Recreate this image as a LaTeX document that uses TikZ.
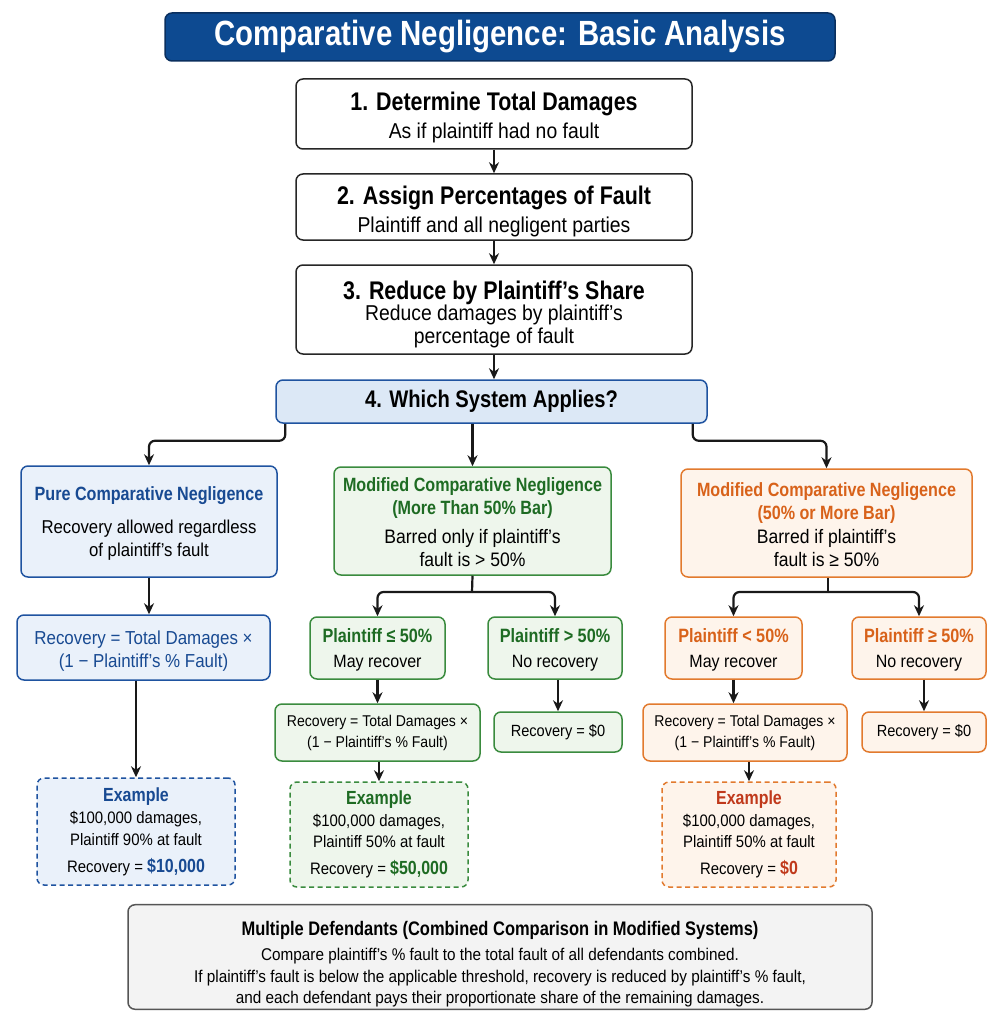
\documentclass[tikz,border=0pt]{standalone}
\usepackage{fontspec}
\setmainfont[FakeStretch=0.9, BoldFeatures={FakeStretch=0.84}]{Liberation Sans}
\usetikzlibrary{arrows.meta}
\definecolor{ttlblue}{HTML}{0D4A91}
\definecolor{ttlbord}{HTML}{0A2F5E}
\definecolor{bluebd}{HTML}{1F53A0}
\definecolor{bluetx}{HTML}{184A92}
\definecolor{bluefill}{HTML}{EAF1FA}
\definecolor{bluefill2}{HTML}{DCE8F6}
\definecolor{grnbd}{HTML}{3A8B3E}
\definecolor{grntx}{HTML}{1E6B23}
\definecolor{grnfill}{HTML}{EEF6EC}
\definecolor{orgbd}{HTML}{E27A2E}
\definecolor{orgtx}{HTML}{D8621A}
\definecolor{orgfill}{HTML}{FEF4EB}
\definecolor{redtx}{HTML}{C0391B}
\definecolor{grayfill}{HTML}{F3F3F3}
\definecolor{graybd}{HTML}{555555}
\tikzset{
  box/.style={rectangle, rounded corners=7pt, line width=1.5pt, align=center, inner sep=2pt},
  stepbox/.style={box, draw=black!85, fill=white},
  bluebox/.style={box, draw=bluebd, fill=bluefill},
  grnbox/.style={box, draw=grnbd, fill=grnfill},
  orgbox/.style={box, draw=orgbd, fill=orgfill},
  dashbox/.style={dashed, dash pattern=on 5pt off 3.5pt},
  conn/.style={line width=2.2pt, draw=black!90, -{Stealth[length=11pt,width=10pt]}, rounded corners=6pt},
  plain/.style={line width=2.2pt, draw=black!90, rounded corners=6pt},
}
\newcommand{\HB}[1]{{\bfseries\fontsize{25.5}{29}\selectfont #1}}
\newcommand{\hdf}{\bfseries\fontsize{19.2}{23}\selectfont}
\newcommand{\exb}{\bfseries\fontsize{19}{23}\selectfont}
\newcommand{\up}[1]{\rule{0pt}{#1pt}}
\begin{document}
\begin{tikzpicture}[x=1pt,y=-1pt]
\useasboundingbox[fill=white] (0,0) rectangle (1004,1024);
% title
\node[box, draw=ttlbord, fill=ttlblue, text=white, minimum width=670, minimum height=48, font=\bfseries\fontsize{35}{40}\selectfont] (title) at (500,37) {Comparative Negligence: Basic Analysis};
% steps
\node[stepbox, minimum width=396, minimum height=70, font=\fontsize{21.5}{28.5}\selectfont] (s1) at (494,114) {\up{25}\HB{1. Determine Total Damages}\\ As if plaintiff had no fault};
\node[stepbox, minimum width=396, minimum height=66, font=\fontsize{21.5}{28}\selectfont] (s2) at (494,207) {\up{27.5}\HB{2. Assign Percentages of Fault}\\ Plaintiff and all negligent parties};
\node[stepbox, minimum width=396, minimum height=89, font=\fontsize{21.5}{23}\selectfont] (s3) at (494,309.5) {\up{27.5}\HB{3. Reduce by Plaintiff’s Share}\\[-2pt] Reduce damages by plaintiff’s\\ percentage of fault};
\node[box, draw=bluebd, fill=bluefill2, minimum width=431, minimum height=43, font=\bfseries\fontsize{24}{28}\selectfont] (s4) at (491.5,401.5) {4. Which System Applies?};
% level systems
\node[bluebox, minimum width=256, minimum height=111, font=\fontsize{18.6}{23}\selectfont] (p) at (149,521.5) {\up{17}{\hdf\color{bluetx}Pure Comparative Negligence}\\[10pt] Recovery allowed regardless\\ of plaintiff's fault};
\node[grnbox, minimum width=277, minimum height=108, font=\fontsize{19.5}{23}\selectfont] (g) at (472.5,521) {\up{17}{\hdf\color{grntx}Modified Comparative Negligence}\\ {\hdf\color{grntx}(More Than 50\% Bar)}\\[6pt] Barred only if plaintiff's\\ fault is > 50\%};
\node[orgbox, minimum width=291, minimum height=108, font=\fontsize{19.5}{23.5}\selectfont] (o) at (826.5,523) {\up{17}{\hdf\color{orgtx}Modified Comparative Negligence}\\ {\hdf\color{orgtx}(50\% or More Bar)}\\ Barred if plaintiff's\\ fault is ≥ 50\%};
% pure column
\node[bluebox, minimum width=253, minimum height=65, text=bluetx, font=\fontsize{18.8}{23}\selectfont] (pf) at (143.5,647.5) {\up{20}Recovery = Total Damages ×\\ (1 − Plaintiff's \% Fault)};
\node[bluebox, dashbox, minimum width=198, minimum height=107, font=\fontsize{16.6}{22}\selectfont] (pe) at (136,831.5) {{\exb\color{bluetx}Example}\\ \$100,000 damages,\\ Plaintiff 90\% at fault\\[5pt] Recovery = {\exb\color{bluetx}\$10,000}};
% green column
\node[grnbox, minimum width=135, minimum height=62, font=\fontsize{17.8}{25}\selectfont] (gl) at (377.5,648) {\up{18}{\bfseries\fontsize{19.3}{23}\selectfont\color{grntx}Plaintiff ≤ 50\%}\\ May recover};
\node[grnbox, minimum width=134, minimum height=62, font=\fontsize{17.8}{25}\selectfont] (gr) at (555,648) {\up{18}{\bfseries\fontsize{19.3}{23}\selectfont\color{grntx}Plaintiff > 50\%}\\ No recovery};
\node[grnbox, minimum width=205, minimum height=57, font=\fontsize{15.6}{21}\selectfont] (gf) at (377.5,732.5) {Recovery = Total Damages ×\\ (1 − Plaintiff's \% Fault)};
\node[grnbox, minimum width=128, minimum height=40, font=\fontsize{16.2}{20}\selectfont] (gz) at (558,732) {Recovery = \$0};
\node[grnbox, dashbox, minimum width=178, minimum height=105, font=\fontsize{16.6}{21.5}\selectfont] (ge) at (379,834.5) {{\exb\color{grntx}Example}\\ \$100,000 damages,\\ Plaintiff 50\% at fault\\[5pt] Recovery = {\exb\color{grntx}\$50,000}};
% orange column
\node[orgbox, minimum width=137, minimum height=62, font=\fontsize{17.8}{25}\selectfont] (ol) at (733.5,648) {\up{18}{\bfseries\fontsize{19.3}{23}\selectfont\color{orgtx}Plaintiff < 50\%}\\ May recover};
\node[orgbox, minimum width=134, minimum height=62, font=\fontsize{17.8}{25}\selectfont] (or) at (919,648) {\up{18}{\bfseries\fontsize{19.3}{23}\selectfont\color{orgtx}Plaintiff ≥ 50\%}\\ No recovery};
\node[orgbox, minimum width=204, minimum height=57, font=\fontsize{15.6}{21}\selectfont] (of) at (745,732.5) {Recovery = Total Damages ×\\ (1 − Plaintiff's \% Fault)};
\node[orgbox, minimum width=124, minimum height=40, font=\fontsize{16.2}{20}\selectfont] (oz) at (924,732) {Recovery = \$0};
\node[orgbox, dashbox, minimum width=174, minimum height=105, font=\fontsize{16.6}{21.5}\selectfont] (oe) at (749,834.5) {{\exb\color{redtx}Example}\\ \$100,000 damages,\\ Plaintiff 50\% at fault\\[5pt] Recovery = {\exb\color{redtx}\$0}};
% bottom
\node[box, draw=graybd, fill=grayfill, minimum width=744, minimum height=102, font=\fontsize{17}{21.5}\selectfont] (md) at (500,957) {\up{28.5}{\bfseries\fontsize{19.6}{23}\selectfont Multiple Defendants (Combined Comparison in Modified Systems)}\\[4pt] Compare plaintiff's \% fault to the total fault of all defendants combined.\\ If plaintiff’s fault is below the applicable threshold, recovery is reduced by plaintiff’s \% fault,\\ and each defendant pays their proportionate share of the remaining damages.};
% connectors
\draw[conn] (s1.south) -- (s1.south |- s2.north);
\draw[conn] (s2.south) -- (s2.south |- s3.north);
\draw[conn] (s3.south) -- (s3.south |- s4.north);
\draw[conn] ([xshift=10pt]s4.south west) -- ++(0,17) -| (p.north);
\draw[conn] (s4.south -| g.north) -- (g.north);
\draw[conn] ([xshift=-15pt]s4.south east) -- ++(0,17) -| (o.north);
\draw[conn] (p.south) -- (p.south |- pf.north);
\draw[conn] (pe.north |- pf.south) -- (pe.north);
\coordinate (gj) at (472,592);
\draw[plain] (g.south) -- (gj);
\draw[conn] (gj) -| (gl.north);
\draw[conn] (gj) -| (gr.north);
\draw[conn] (gl.south) -- (gl.south |- gf.north);
\draw[conn] (gz.north |- gr.south) -- (gz.north);
\draw[conn] (ge.north |- gf.south) -- (ge.north);
\coordinate (oj) at (828,592);
\draw[plain] (o.south -| oj) -- (oj);
\draw[conn] (oj) -| (ol.north);
\draw[conn] (oj) -| (or.north);
\draw[conn] (ol.south) -- (ol.south |- of.north);
\draw[conn] (oz.north |- or.south) -- (oz.north);
\draw[conn] (oe.north |- of.south) -- (oe.north);
\end{tikzpicture}
\end{document}
